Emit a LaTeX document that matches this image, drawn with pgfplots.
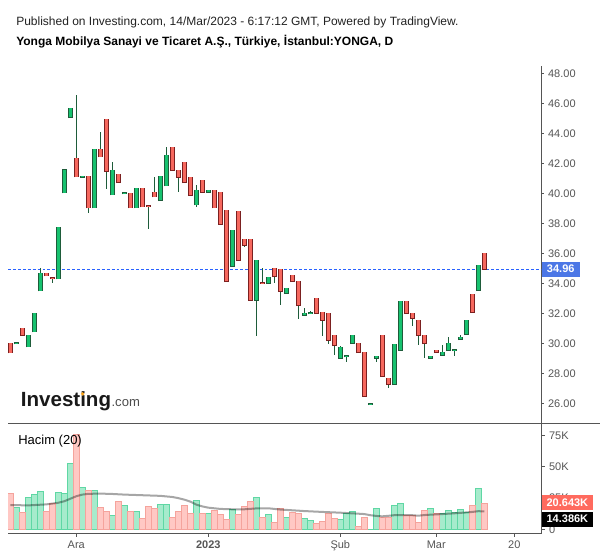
\documentclass[border=0pt]{standalone}
\usepackage{fontspec}
\setmainfont{Liberation Sans}
\usepackage{pgfplots}
\pgfplotsset{compat=1.18}
\usepackage{pgfplotstable}

\definecolor{cup}{HTML}{17C26F}
\definecolor{cupB}{HTML}{1E5C3A}
\definecolor{cdn}{HTML}{F6685E}
\definecolor{cdnB}{HTML}{7B2020}
\definecolor{wick}{HTML}{1E5C3A}
\definecolor{vup}{HTML}{A6EBCC}
\definecolor{vupB}{HTML}{5FD7A4}
\definecolor{vdn}{HTML}{FFC8C4}
\definecolor{vdnB}{HTML}{F5A39C}
\definecolor{axisgray}{HTML}{555555}
\definecolor{tickgray}{HTML}{555555}
\definecolor{priceline}{RGB}{41,98,255}
\definecolor{bluebox}{HTML}{4C77E6}
\definecolor{redbox}{HTML}{FF6A5E}
\definecolor{logoorange}{HTML}{F7A21B}

% i open high low close volume(K)
\pgfplotstableread{
i o h l c v
1 30.02 30.02 29.40 29.40 28.7
2 30.00 30.04 30.00 30.04 17.4
3 31.02 31.02 30.56 30.56 13.7
4 29.80 30.56 29.80 30.56 25.5
5 30.80 32.02 30.80 32.02 27.9
6 33.53 35.02 33.53 34.68 30.3
7 34.68 34.68 34.52 34.52 14.5
8 34.37 34.37 34.06 34.35 20.6
9 34.32 37.75 34.32 37.75 29.5
10 40.05 41.56 40.05 41.56 28.7
11 45.07 45.67 45.07 45.67 52.8
12 42.34 46.56 41.12 41.12 76.0
13 41.10 41.14 41.10 41.14 33.5
14 41.14 41.14 38.72 39.05 31.1
15 39.05 42.94 39.05 42.94 31.1
16 42.94 44.09 42.45 42.45 17.4
17 44.94 44.94 40.32 41.48 14.5
18 39.92 42.09 39.92 41.54 11.0
19 41.28 41.28 40.74 40.74 22.3
20 39.99 40.03 39.99 40.03 19.1
21 40.01 40.01 39.05 39.05 14.5
22 39.05 40.34 39.05 40.34 14.5
23 40.34 40.34 39.12 39.12 8.8
24 39.19 39.19 37.65 39.17 18.2
25 40.08 41.10 39.78 39.78 16.6
26 39.54 41.14 39.54 41.14 19.8
27 40.52 43.07 40.52 42.54 19.8
28 43.07 43.07 41.54 41.54 9.4
29 41.54 41.54 40.12 41.08 14.5
30 42.07 42.07 40.74 40.74 19.1
31 41.08 41.08 39.88 39.88 12.6
32 39.25 40.54 39.12 40.21 23.1
33 40.88 40.88 40.08 40.08 12.6
34 40.08 40.21 40.08 40.21 12.6
35 40.21 40.21 39.05 39.05 15.3
36 40.08 40.08 37.95 37.95 11.8
37 38.88 38.88 34.15 34.15 7.8
38 35.15 37.55 35.15 37.55 15.8
39 38.81 38.81 35.55 35.55 12.1
40 36.95 36.95 36.46 36.55 18.2
41 36.95 36.95 32.89 32.89 22.3
42 32.89 35.55 30.53 35.55 25.5
43 34.04 35.02 34.02 34.02 9.4
44 34.02 34.42 34.02 34.42 11.8
45 35.02 35.02 34.06 34.48 5.6
46 34.95 34.95 32.59 33.49 16.9
47 33.35 33.69 33.35 33.69 9.6
48 34.55 34.55 34.15 34.15 13.9
49 34.15 34.15 31.66 32.55 12.9
50 31.89 32.35 31.89 32.02 8.8
51 32.00 32.15 32.00 32.03 7.2
52 33.02 33.02 32.02 32.02 4.8
53 32.09 32.09 30.53 31.56 6.4
54 32.02 32.02 30.00 30.22 13.1
55 30.56 30.56 29.26 29.89 8.8
56 29.03 29.86 29.03 29.76 8.0
57 29.14 29.17 28.80 29.17 12.9
58 30.02 30.56 30.02 30.56 14.5
59 30.02 30.02 29.42 29.42 2.4
60 29.42 29.42 26.50 26.50 9.6
61 25.95 25.97 25.95 25.97 0.3
62 29.03 29.16 28.80 29.16 16.9
63 30.56 30.56 27.83 27.83 9.6
64 27.69 27.69 27.07 27.29 9.6
65 27.29 29.96 27.29 29.96 19.3
66 29.56 32.82 29.56 32.82 20.9
67 32.82 32.82 32.02 32.02 11.3
68 32.02 32.02 31.20 31.69 11.3
69 31.56 31.56 29.93 30.56 5.6
70 30.56 30.56 29.07 30.02 15.3
71 29.03 29.16 29.03 29.16 16.9
72 29.56 29.56 29.42 29.42 12.9
73 29.23 29.91 29.23 29.42 12.9
74 29.56 30.44 29.56 30.02 15.3
75 29.55 29.58 29.20 29.58 13.7
76 30.29 30.56 30.29 30.42 16.1
77 30.62 31.56 30.62 31.56 13.7
78 33.29 33.29 32.09 32.09 19.3
79 33.55 35.22 33.55 35.22 33.0
80 36.02 36.02 34.96 34.96 21.1
}\ohlc

% 20-day volume average (K)
\pgfplotstableread{
i ma
1 19.5
4 19.2
7 20.0
9 21.3
10 22.5
11 24.5
12 26.5
13 27.8
14 28.4
16 28.6
18 28.3
20 27.8
23 27.3
26 26.8
28 25.9
29 25.0
30 23.8
31 22.2
32 19.8
33 18.4
34 17.4
36 16.4
38 16.1
40 16.1
42 16.8
44 16.9
46 15.9
48 15.3
50 14.7
53 14.0
56 13.4
59 12.6
60 12.3
61 11.4
62 10.8
63 10.5
64 10.9
65 11.4
68 11.4
69 11.0
70 11.5
71 11.8
73 12.3
75 12.9
77 13.6
78 14.0
79 14.6
80 14.4
}\matable

% last close
\pgfplotstableread{
i p
0.617 34.96
89.5 34.96
}\lastline

\pgfplotsset{
  candle/.style n args={3}{draw=none, mark=none,
    restrict expr to domain={\thisrow{c}-\thisrow{o}}{#1},
    error bars/.cd, y dir=plus, y explicit, error mark=none,
    error bar style={draw=#2, line width=#3}},
}

\begin{document}
\begin{tikzpicture}
\path[use as bounding box] (0,0) rectangle (450pt,-418.5pt);

\node[anchor=base west, inner sep=0, font=\fontsize{9}{10}\selectfont, text=black!87] at (12pt,-18.75pt)
  {Published on Investing.com, 14/Mar/2023 - 6:17:12 GMT, Powered by TradingView.};
\node[anchor=base west, inner sep=0, font=\bfseries\fontsize{9}{10}\selectfont] at (12pt,-33.75pt)
  {Yonga Mobilya Sanayi ve Ticaret A.Ş., Türkiye, İstanbul:YONGA, D};

% ---------- price panel ----------
\begin{axis}[
  at={(6pt,-317.475pt)}, anchor=south west, scale only axis,
  width=399.975pt, height=267.975pt,
  xmin=0.617, xmax=89.5, ymin=24.698, ymax=48.486,
  axis x line=none, axis y line*=right,
  axis line style={draw=axisgray, line width=0.75pt},
  xtick=\empty,
  ytick={26,28,30,32,34,36,38,40,42,44,46,48},
  yticklabels={26.00,28.00,30.00,32.00,34.00,36.00,38.00,40.00,42.00,44.00,46.00,48.00},
  tick align=outside, major tick length=1.9pt,
  tick style={draw=axisgray, line width=0.6pt},
  yticklabel style={font=\fontsize{8.25}{9}\selectfont, text=tickgray, anchor=west, inner sep=0pt, xshift=3pt},
  clip mode=individual,
]
\addplot[priceline, mark=none, line width=0.9pt, dash pattern=on 2.2pt off 1.5pt] table[x=i, y=p] {\lastline};
% wicks
\addplot[draw=none, mark=none, error bars/.cd, y dir=plus, y explicit, error mark=none,
  error bar style={draw=wick, line width=0.75pt}]
  table[x=i, y=l, y error plus expr=\thisrow{h}-\thisrow{l}] {\ohlc};
% green bodies
\addplot[candle={0:100}{cupB}{3.5pt}]
  table[x=i, y expr={min(\thisrow{o},\thisrow{c})-0.047}, y error plus expr={abs(\thisrow{c}-\thisrow{o})+0.094}] {\ohlc};
\addplot[candle={0:100}{cup}{2.45pt}]
  table[x=i, y expr={min(\thisrow{o},\thisrow{c})}, y error plus expr={abs(\thisrow{c}-\thisrow{o})}] {\ohlc};
% red bodies
\addplot[candle={-100:-0.00001}{cdnB}{3.5pt}]
  table[x=i, y expr={min(\thisrow{o},\thisrow{c})-0.047}, y error plus expr={abs(\thisrow{c}-\thisrow{o})+0.094}] {\ohlc};
\addplot[candle={-100:-0.00001}{cdn}{2.45pt}]
  table[x=i, y expr={min(\thisrow{o},\thisrow{c})}, y error plus expr={abs(\thisrow{c}-\thisrow{o})}] {\ohlc};
\node[fill=bluebox, text=white, font=\bfseries\fontsize{8.25}{9}\selectfont, anchor=west,
  minimum height=11.25pt, minimum width=28.7pt, inner sep=0pt, outer sep=0pt] at (axis cs:89.55,34.96) {34.96};
\end{axis}

% ---------- volume panel ----------
\begin{axis}[
  at={(6pt,-400.125pt)}, anchor=south west, scale only axis,
  width=399.975pt, height=82.65pt,
  xmin=0.617, xmax=89.5, ymin=-3.18, ymax=84.55,
  axis x line*=bottom, axis y line*=right,
  axis line style={draw=axisgray, line width=0.75pt},
  xtick={12,34,56,72,85},
  xticklabels={Ara,{\bfseries 2023},Şub,Mar,20},
  ytick={0,25,50,75}, yticklabels={0,25K,50K,75K},
  tick align=outside, major tick length=2.6pt,
  tick style={draw=axisgray, line width=0.6pt},
  yticklabel style={font=\fontsize{8.25}{9}\selectfont, text=tickgray, anchor=west, inner sep=0pt, xshift=3pt},
  xticklabel style={font=\fontsize{8.25}{9}\selectfont, text=tickgray, anchor=base, inner sep=0pt, yshift=-9pt},
  clip mode=individual,
]
\addplot[ybar, bar width=0.88, bar shift=0pt, fill=vup, draw=vupB, line width=0.6pt,
  restrict expr to domain={\thisrow{c}-\thisrow{o}}{0:100}] table[x=i, y=v] {\ohlc};
\addplot[ybar, bar width=0.88, bar shift=0pt, fill=vdn, draw=vdnB, line width=0.6pt,
  restrict expr to domain={\thisrow{c}-\thisrow{o}}{-100:-0.00001}] table[x=i, y=v] {\ohlc};
\addplot[black, opacity=0.35, line width=1.5pt] table[x=i, y=ma] {\matable};
\node[fill=redbox, text=white, font=\bfseries\fontsize{8.25}{9}\selectfont, anchor=west,
  minimum height=11.25pt, minimum width=38.7pt, inner sep=0pt, outer sep=0pt] at (axis cs:89.55,21.5) {20.643K};
\node[fill=black, text=white, font=\bfseries\fontsize{8.25}{9}\selectfont, anchor=west,
  minimum height=11.25pt, minimum width=38.7pt, inner sep=0pt, outer sep=0pt] at (axis cs:89.55,8.2) {14.386K};
\end{axis}

\draw[axisgray, line width=0.75pt] (6pt,-317.475pt) -- (450pt,-317.475pt);

\node[anchor=base west, inner sep=0, font=\fontsize{9.75}{11}\selectfont] at (13.5pt,-333pt) {Hacim (20)};
\node[anchor=base west, inner sep=0, font=\bfseries\fontsize{15.4}{17}\selectfont, text=black!90] at (15.5pt,-305pt) {Investing};
\fill[logoorange] (62pt,-295.4pt) circle (1.45pt);
\node[anchor=base west, inner sep=0, font=\fontsize{9.8}{11}\selectfont, text=black!70] at (83.5pt,-305pt) {.com};
\end{tikzpicture}
\end{document}
